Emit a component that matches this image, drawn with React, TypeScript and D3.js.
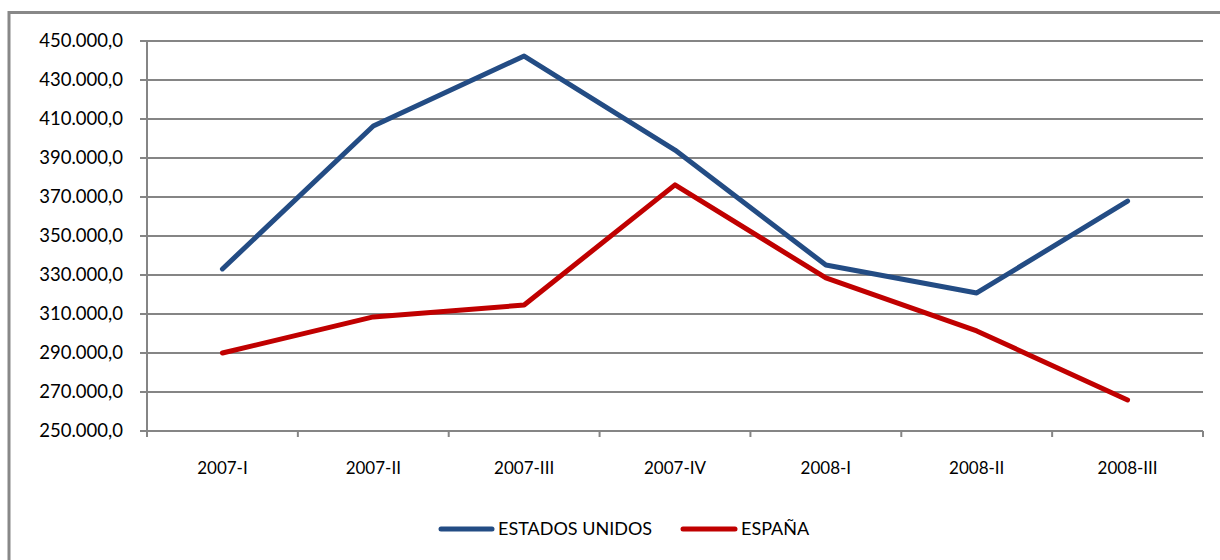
import React from "react";
import * as d3 from "d3";

const categories = ["2007-I", "2007-II", "2007-III", "2007-IV", "2008-I", "2008-II", "2008-III"];
const estadosUnidos = [333100, 406400, 442300, 394100, 335100, 320800, 367900];
const espana = [290000, 308500, 314600, 376200, 328500, 301300, 265900];
const yTicks = [250000, 270000, 290000, 310000, 330000, 350000, 370000, 390000, 410000, 430000, 450000];
const seriesNames = ["ESTADOS UNIDOS", "ESPAÑA"];
const seriesColors = ["#234C84", "#C00000"];

const W = 1220;
const H = 560;
const plot = { left: 147, right: 1203, top: 41, bottom: 431 };
const font = "Lato, 'Open Sans', sans-serif";

export default function App() {
  const x = d3.scaleBand<string>().domain(categories).range([plot.left, plot.right]).padding(0);
  const y = d3.scaleLinear().domain([250000, 450000]).range([plot.bottom, plot.top]);
  const fmt = (v: number) => d3.format(",.1f")(v).replace(/,/g, "#").replace(/\./g, ",").replace(/#/g, ".");
  const line = d3
    .line<number>()
    .x((_, i) => (x(categories[i]) as number) + x.bandwidth() / 2)
    .y((d) => y(d));
  const series = [estadosUnidos, espana];
  const grid = "#858585";
  const boundaries = d3.range(categories.length + 1).map((i) => plot.left + i * x.bandwidth());

  return (
    <svg width={W} height={H} style={{ position: "absolute", left: 0, top: 0, background: "#fff" }}>
      <rect x={0} y={0} width={W} height={H} fill="#fff" />
      <rect x={9} y={12.5} width={W + 20} height={H + 20} fill="none" stroke="#888" strokeWidth={3} />
      {yTicks.map((t) => (
        <g key={t}>
          <line x1={plot.left - 7} x2={plot.right} y1={y(t)} y2={y(t)} stroke={grid} strokeWidth={2} />
          <text x={123} y={y(t)} dy="0.35em" textAnchor="end" fontFamily={font} fontSize={18.5} fill="#000">
            {fmt(t)}
          </text>
        </g>
      ))}
      <line x1={plot.left} x2={plot.left} y1={plot.top} y2={plot.bottom + 5} stroke={grid} strokeWidth={2} />
      {boundaries.map((bx, i) => (
        <line key={i} x1={bx} x2={bx} y1={plot.bottom} y2={plot.bottom + 6} stroke={grid} strokeWidth={2} />
      ))}
      {categories.map((c) => (
        <text
          key={c}
          x={(x(c) as number) + x.bandwidth() / 2}
          y={plot.bottom + 43}
          textAnchor="middle"
          fontFamily={font}
          fontSize={17}
          fill="#000"
        >
          {c}
        </text>
      ))}
      {series.map((s, i) => (
        <path
          key={i}
          d={line(s) as string}
          fill="none"
          stroke={seriesColors[i]}
          strokeWidth={5}
          strokeLinejoin="round"
          strokeLinecap="round"
        />
      ))}
      {[
        { x1: 441, x2: 492, tx: 498 },
        { x1: 683, x2: 735, tx: 741 },
      ].map((l, i) => (
        <g key={i}>
          <line x1={l.x1} x2={l.x2} y1={529} y2={529} stroke={seriesColors[i]} strokeWidth={5} strokeLinecap="round" />
          <text x={l.tx} y={529} dy="0.36em" fontFamily={font} fontSize={18} fill="#000">
            {seriesNames[i]}
          </text>
        </g>
      ))}
    </svg>
  );
}
